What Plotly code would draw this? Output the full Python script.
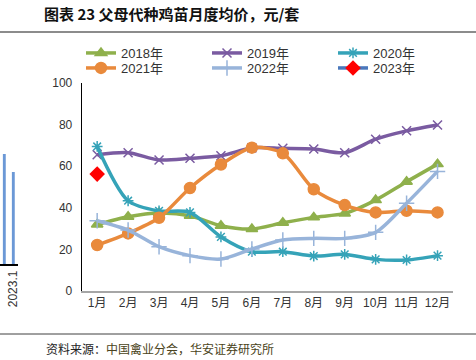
import plotly.graph_objects as go

months = ["1月", "2月", "3月", "4月", "5月", "6月", "7月", "8月", "9月", "10月", "11月", "12月"]
y2018 = [32.0, 35.7, 37.5, 36.2, 31.4, 29.8, 32.8, 35.4, 37.3, 43.7, 52.5, 61.0]
y2019 = [65.5, 66.5, 63.0, 63.8, 65.0, 68.8, 68.6, 68.3, 66.5, 73.0, 77.0, 79.8]
y2020 = [69.5, 43.4, 38.5, 37.8, 26.0, 18.9, 18.9, 16.8, 17.6, 15.2, 14.9, 17.0]
y2021 = [22.1, 27.7, 35.2, 49.5, 60.8, 68.9, 66.2, 48.9, 41.3, 37.8, 38.6, 37.8]
y2022 = [33.8, 29.3, 21.3, 17.0, 15.4, 20.2, 24.5, 25.3, 25.3, 28.2, 42.2, 57.5]
y2023 = [56.2]

left_cats = ["2022.12", "2023.1"]
left_vals = [110, 92]

FONT = "Liberation Sans, Noto Sans CJK SC, sans-serif"

fig = go.Figure()

series = [
    ("2018年", y2018, "#8FB04C", "triangle-up", 10, "legend"),
    ("2019年", y2019, "#7A5BA1", "x-thin-open", 9, "legend"),
    ("2020年", y2020, "#35A3B8", "asterisk-open", 9, "legend"),
    ("2021年", y2021, "#E98A3C", "circle", 11, "legend2"),
    ("2022年", y2022, "#98B4DA", "cross-thin-open", 11, "legend2"),
]
for name, vals, col, sym, sz, lg in series:
    fig.add_trace(go.Scatter(
        x=months[:len(vals)], y=vals, name=name, mode="lines+markers",
        line=dict(color=col, width=3.5, shape="spline", smoothing=0.8),
        marker=dict(symbol=sym, size=sz, color=col, line=dict(color=col, width=1.5)),
        xaxis="x", yaxis="y", legend=lg,
    ))
fig.add_trace(go.Scatter(
    x=months[:len(y2023)], y=y2023, name="2023年", mode="lines+markers",
    line=dict(color="#4A78BC", width=3.5),
    marker=dict(symbol="diamond", size=12, color="#FF0000"),
    xaxis="x", yaxis="y", legend="legend2",
))

# cut-off neighbouring chart at the left edge
fig.add_trace(go.Bar(
    x=[1, 2], y=left_vals, width=0.32, marker=dict(color="#6B98D6", line=dict(width=0)),
    showlegend=False, xaxis="x2", yaxis="y2", hoverinfo="skip",
))

legend_common = dict(
    orientation="h", x=81 / 476, xanchor="left", yanchor="top",
    entrywidth=81, entrywidthmode="pixels",
    font=dict(size=13, color="#333333"), tracegroupgap=0, itemwidth=30,
    bgcolor="rgba(0,0,0,0)",
)

fig.update_layout(
    width=476, height=360,
    margin=dict(l=0, r=0, t=0, b=0, autoexpand=False),
    paper_bgcolor="white", plot_bgcolor="white",
    font=dict(family=FONT, size=12, color="#333333"),
    showlegend=True,
    legend=dict(y=1 - 38 / 360, **legend_common),
    legend2=dict(y=1 - 53 / 360, **legend_common),
    xaxis=dict(
        domain=[81.7 / 476, 453 / 476], anchor="y", type="category", automargin=False,
        range=[-0.5, 11.5], showline=True, linecolor="#A6A6A6", linewidth=1.5,
        showgrid=False, zeroline=False, ticks="", tickfont=dict(size=12, color="#333333"),
    ),
    yaxis=dict(
        domain=[(360 - 291) / 360, (360 - 83) / 360], anchor="x", automargin=False,
        range=[0, 100], dtick=20, showline=True, linecolor="#000000", linewidth=1,
        showgrid=False, zeroline=False, ticks="", ticklabelstandoff=6,
        tickfont=dict(size=12, color="#333333"),
    ),
    xaxis2=dict(
        domain=[0, 18 / 476], anchor="y2", range=[0.52, 2.52], automargin=False,
        showline=True, linecolor="#000000", linewidth=1.5, showgrid=False, zeroline=False,
        tickmode="array", tickvals=[2], ticktext=[left_cats[1]], tickangle=-90,
        tickfont=dict(size=12, color="#333333"), ticks="",
    ),
    yaxis2=dict(
        domain=[(360 - 264) / 360, (360 - 144) / 360], anchor="x2", range=[0, 120],
        visible=False, automargin=False,
    ),
    title=dict(
        text="<b>图表 23 父母代种鸡苗月度均价，元/套</b>",
        x=44 / 476, xanchor="left", y=1 - 15 / 360, yanchor="middle",
        font=dict(family="Noto Sans CJK SC, sans-serif", size=15, color="#111111"),
    ),
    annotations=[dict(
        text="资料来源：<span style='color:#4A4320'>中国禽业分会，华安证券研究所</span>",
        xref="paper", yref="paper", x=44 / 476, y=1 - 348 / 360,
        xanchor="left", yanchor="middle", showarrow=False,
        font=dict(family="Noto Sans CJK SC, sans-serif", size=12, color="#222222"),
    )],
    shapes=[
        dict(type="line", xref="paper", yref="paper", x0=0, x1=1,
             y0=1 - 32 / 360, y1=1 - 32 / 360, line=dict(color="#8C8C8C", width=2)),
        dict(type="line", xref="paper", yref="paper", x0=0, x1=1,
             y0=1 - 334 / 360, y1=1 - 334 / 360, line=dict(color="#404040", width=1)),
    ],
)

fig.write_html(
    "out.html",
    config={"displayModeBar": False},
    post_script="document.body.style.margin='0';document.body.style.overflow='hidden';",
)
